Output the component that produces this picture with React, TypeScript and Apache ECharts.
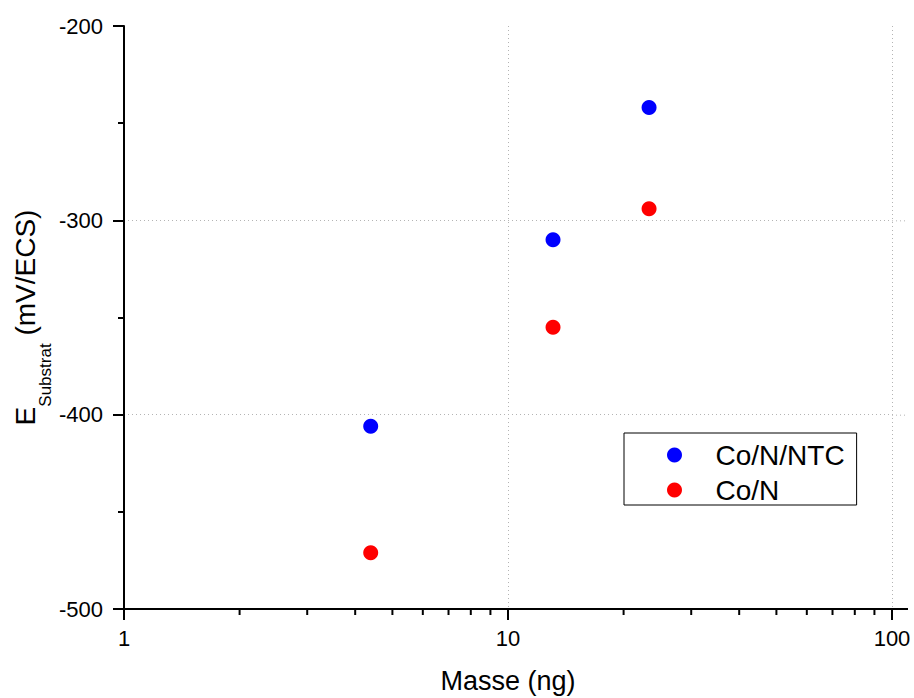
import React, { useEffect, useRef } from "react";
import * as echarts from "echarts";

const seriesNames = ["Co/N/NTC", "Co/N"];
const masses = [4.39, 13.1, 23.3];
const coNNtc = [-406, -310, -242];
const coN = [-471, -355, -294];
const xMin = 1;
const xMax = 100;
const yMin = -500;
const yMax = -200;
const yInterval = 100;
const xMinorTicks = [2, 3, 4, 5, 6, 7, 8, 9, 20, 30, 40, 50, 60, 70, 80, 90];
const yGridValues = [-300, -400];

const FONT = "'Liberation Sans', Arial, Helvetica, sans-serif";

export default function App() {
  const ref = useRef<HTMLDivElement>(null);
  useEffect(() => {
    if (!ref.current) return;
    const chart = echarts.init(ref.current, undefined, { renderer: "svg" });
    const option = {
      animation: false,
      backgroundColor: "#ffffff",
      textStyle: { fontFamily: FONT },
      grid: { left: 124, top: 26, right: 22, bottom: 89, containLabel: false, outerBoundsMode: "none" },
      legend: {
        orient: "vertical",
        left: 624,
        top: 433,
        data: seriesNames,
        itemWidth: 72,
        itemHeight: 15,
        itemGap: 7,
        padding: [8, 12, 1, 43],
        borderColor: "#000",
        borderWidth: 1,
        borderRadius: 0,
        backgroundColor: "#fff",
        textStyle: { fontSize: 28, color: "#000", fontFamily: FONT },
        selectedMode: false,
      },
      xAxis: {
        type: "log",
        logBase: 10,
        min: xMin,
        max: xMax,
        name: "Masse (ng)",
        nameLocation: "middle",
        nameGap: 58,
        nameMoveOverlap: false,
        nameTextStyle: { fontSize: 27, color: "#000", fontFamily: FONT },
        axisLine: { show: true, lineStyle: { color: "#000", width: 2 } },
        axisTick: { show: true, length: 11, lineStyle: { color: "#000", width: 2 } },
        minorTick: { show: false },
        axisLabel: { fontSize: 22, color: "#000", margin: 18, fontFamily: FONT },
        splitLine: {
          show: true,
          showMinLine: false,
          lineStyle: { color: "#b4b4b4", type: [1, 3], width: 1 },
        },
      },
      yAxis: {
        type: "value",
        min: yMin,
        max: yMax,
        interval: yInterval,
        name: "{e|E}{s|Substrat}{n| (mV/ECS)}",
        nameLocation: "middle",
        nameGap: 83,
        nameMoveOverlap: false,
        nameTextStyle: {
          color: "#000",
          fontFamily: FONT,
          rich: {
            e: { fontSize: 28, color: "#000", fontFamily: FONT, lineHeight: 30, verticalAlign: "top" },
            s: { fontSize: 17, color: "#000", fontFamily: FONT, lineHeight: 20, verticalAlign: "top", padding: [26, 0, 0, 0] },
            n: { fontSize: 28, color: "#000", fontFamily: FONT, lineHeight: 30, verticalAlign: "top" },
          },
        },
        axisLine: { show: true, onZero: false, lineStyle: { color: "#000", width: 2 } },
        axisTick: { show: true, length: 11, lineStyle: { color: "#000", width: 2 } },
        minorTick: { show: true, splitNumber: 2, length: 6, lineStyle: { color: "#000", width: 2 } },
        axisLabel: { fontSize: 22, color: "#000", margin: 21, fontFamily: FONT },
        splitLine: {
          show: true,
          showMinLine: false,
          showMaxLine: false,
          lineStyle: { color: "#b4b4b4", type: [1, 3], width: 1 },
        },
      },
      series: [
        {
          name: seriesNames[0],
          type: "scatter",
          symbol: "circle",
          symbolSize: 15,
          itemStyle: { color: "#0000ff", opacity: 1 },
          data: masses.map((m, i) => [m, coNNtc[i]]),
          z: 5,
        },
        {
          name: seriesNames[1],
          type: "scatter",
          symbol: "circle",
          symbolSize: 15,
          itemStyle: { color: "#ff0000", opacity: 1 },
          data: masses.map((m, i) => [m, coN[i]]),
          z: 5,
        },
        {
          name: "minorTicks",
          type: "custom",
          silent: true,
          clip: false,
          data: xMinorTicks.map((v) => [v, yMin]),
          renderItem: (params: any, api: any) => {
            const p = api.coord([api.value(0), api.value(1)]);
            return {
              type: "line",
              shape: { x1: p[0], y1: p[1], x2: p[0], y2: p[1] + 6 },
              style: { stroke: "#000", lineWidth: 2 },
            };
          },
          z: 3,
        },
        {
          name: "extensions",
          type: "custom",
          silent: true,
          clip: false,
          data: [[xMax, yMin], ...yGridValues.map((v) => [xMax, v])],
          renderItem: (params: any, api: any) => {
            const y = api.value(1);
            const p = api.coord([api.value(0), y]);
            if (y === yMin) {
              return {
                type: "line",
                shape: { x1: p[0], y1: p[1], x2: p[0] + 16, y2: p[1] },
                style: { stroke: "#000", lineWidth: 2 },
              };
            }
            return {
              type: "line",
              shape: { x1: p[0], y1: p[1] + 0.5, x2: p[0] + 13, y2: p[1] + 0.5 },
              style: { stroke: "#b4b4b4", lineWidth: 1, lineDash: [1, 3] },
            };
          },
          z: 3,
        },
      ],
    };
    chart.setOption(option as any);
    return () => chart.dispose();
  }, []);
  return <div ref={ref} style={{ width: 914, height: 698, position: "absolute", left: 0, top: 0 }} />;
}
